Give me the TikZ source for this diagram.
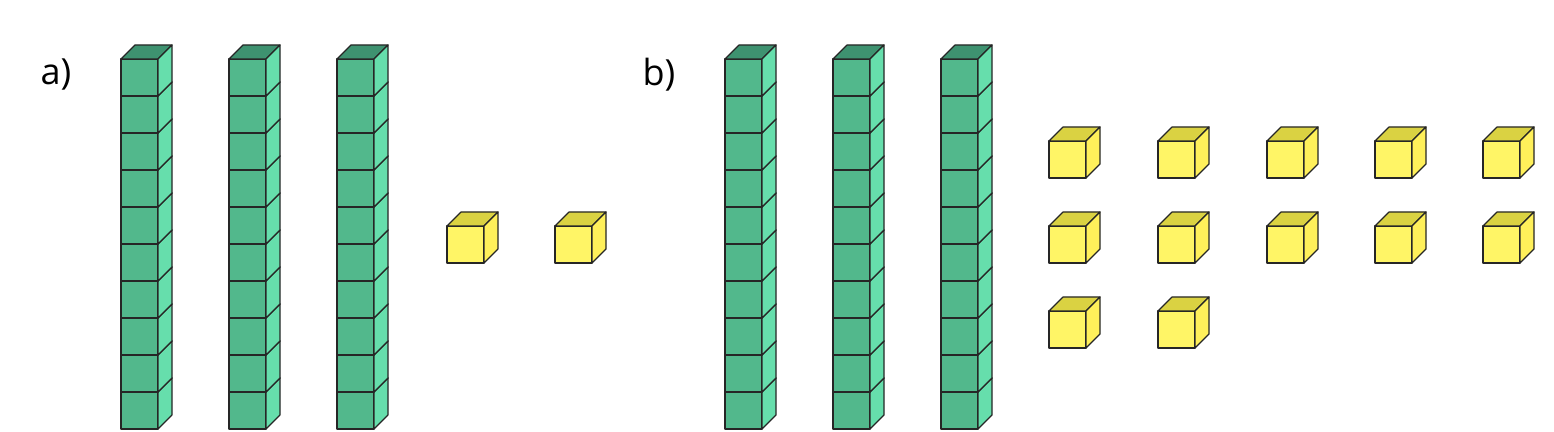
\documentclass[tikz,border=0pt]{standalone}
\usepackage{fontspec}
\setmainfont{Open Sans}
\definecolor{rodfront}{RGB}{82,184,140}
\definecolor{rodside}{RGB}{102,222,172}
\definecolor{rodtop}{RGB}{62,146,112}
\definecolor{unitfront}{RGB}{255,245,102}
\definecolor{unitside}{RGB}{255,240,90}
\definecolor{unittop}{RGB}{218,210,66}
\newcommand{\block}[3]{% x, y (front top left), colour prefix
  \draw[face, fill=#3front] (#1,#2) rectangle ++(37,37);
  \draw[face, fill=#3top] (#1,#2) -- ++(14,-14) -- ++(37,0) -- ++(-14,14) -- cycle;
  \draw[face, fill=#3side] (#1+37,#2) -- ++(14,-14) -- ++(0,37) -- ++(-14,14) -- cycle;}
\begin{document}
\begin{tikzpicture}[x=0.5pt, y=-0.5pt]
    \tikzset{face/.style={draw=black!85, line width=0.6pt, line join=round},
             tag/.style={font=\fontsize{18}{20}\selectfont, inner sep=0pt}}
    \useasboundingbox (0,0) rectangle (1554,432);

    \node[tag] (la) at (56,75) {a)};
    \node[tag] (lb) at (659,75) {b)};

    % tens rods
    \foreach \rx in {121,229,337,725,833,941}
        \foreach \k in {9,8,...,0}
            \block{\rx}{59+37*\k}{rod};

    % units, part a
    \foreach \ux in {447,555}
        \block{\ux}{226}{unit};

    % units, part b
    \foreach \ux in {1049,1158,1267,1375,1483}
        \foreach \uy in {141,226}
            \block{\ux}{\uy}{unit};
    \foreach \ux in {1049,1158}
        \block{\ux}{311}{unit};
\end{tikzpicture}
\end{document}
